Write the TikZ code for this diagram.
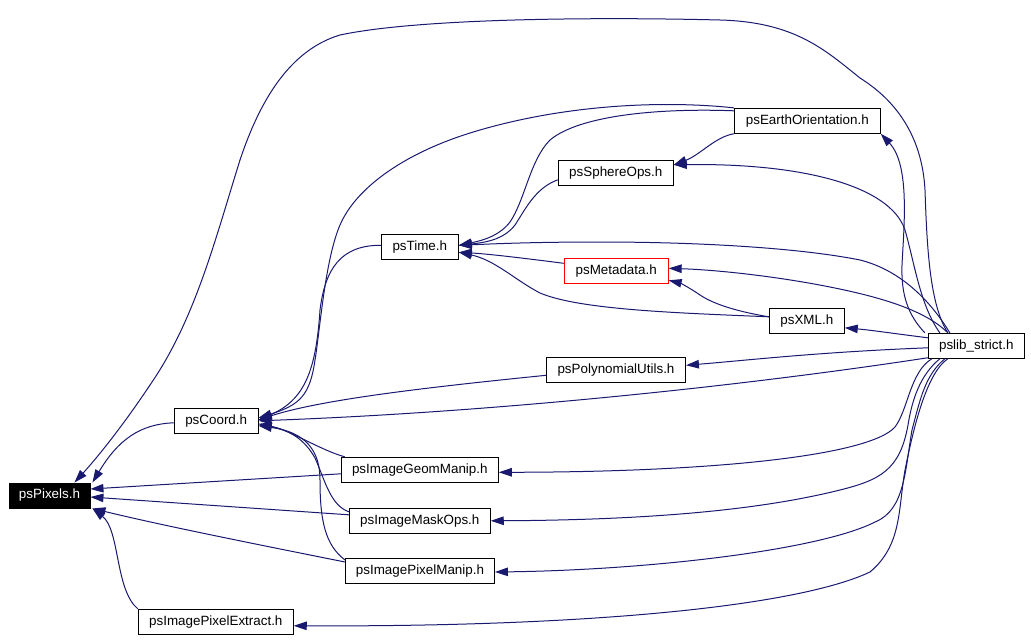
\documentclass[tikz,border=0pt]{standalone}
\usepackage{fontspec}
\setmainfont{Liberation Sans}
\usetikzlibrary{arrows.meta,calc}
\definecolor{navyc}{RGB}{25,25,112}
\begin{document}
\begin{tikzpicture}[x=1pt,y=-1pt,
  hdr/.style={draw=black, line width=0.9pt, minimum height=25pt, inner sep=0pt, fill=white, font=\fontsize{13.4}{15}\selectfont},
  incl/.style={draw=navyc, line width=1pt, -{Triangle[length=13pt,width=8.5pt]}, fill=none}]
\useasboundingbox (0,0) rectangle (1031,643);
% nodes
\node[hdr, minimum width=81pt, fill=black, text=white] (pix) at (49.5,495.5) {psPixels.h};
\node[hdr, minimum width=84pt] (coord) at (216.2,420.8) {psCoord.h};
\node[hdr, minimum width=155pt] (pext) at (215.8,621.8) {psImagePixelExtract.h};
\node[hdr, minimum width=77pt] (time) at (419.8,247.3) {psTime.h};
\node[hdr, minimum width=115pt] (sphere) at (615.8,172.8) {psSphereOps.h};
\node[hdr, minimum width=146pt] (earth) at (807.3,120.8) {psEarthOrientation.h};
\node[hdr, minimum width=104pt, draw=red] (meta) at (616.2,271.3) {psMetadata.h};
\node[hdr, minimum width=75pt] (xml) at (806.8,320.8) {psXML.h};
\node[hdr, minimum width=96pt] (lib) at (976.3,345.8) {pslib\_strict.h};
\node[hdr, minimum width=139pt] (poly) at (616,370.3) {psPolynomialUtils.h};
\node[hdr, minimum width=157pt] (geom) at (419.8,469.8) {psImageGeomManip.h};
\node[hdr, minimum width=141pt] (mask) at (419.8,520.8) {psImageMaskOps.h};
\node[hdr, minimum width=149pt] (pman) at (420,571) {psImagePixelManip.h};
% edges into psPixels.h
\draw[incl] ($(lib.north west)+(20,0)$) .. controls (930,305) and (927,250) .. (925,190) .. controls (922,135) and (895,100) .. (860,78) .. controls (825,50) and (795,22) .. (720,20) .. controls (600,17) and (420,18) .. (340,35) .. controls (290,50) and (260,100) .. (240,160) .. controls (215,240) and (195,320) .. (150,385) .. controls (120,430) and (95,460) .. ($(pix.north east)+(-16,0)$);
\draw[incl] ($(coord.west)+(0,2)$) .. controls (140,424) and (118,440) .. ($(pix.north east)+(2,0)$);
\draw[incl] ($(geom.west)+(0,4)$) -- ($(pix.east)+(0,-6.5)$);
\draw[incl] ($(mask.west)+(0,-6)$) -- ($(pix.east)+(0,1.5)$);
\draw[incl] ($(pman.west)+(0,-9)$) .. controls (260,545) and (160,525) .. ($(pix.south east)+(2,0)$);
\draw[incl] (pext.north west) .. controls (115,590) and (120,530) .. ($(pix.south east)+(2,0)$);
% edges into psCoord.h
\draw[incl] ($(time.west)+(0,-2)$) .. controls (340,245) and (325,270) .. (320,310) .. controls (316,370) and (305,400) .. ($(coord.east)+(0,-1)$);
\draw[incl] (earth.north west) .. controls (660,100) and (560,105) .. (470,133) .. controls (400,155) and (355,190) .. (340,225) .. controls (325,260) and (320,330) .. (315,360) .. controls (310,395) and (300,405) .. ($(coord.east)+(0,-3)$);
\draw[incl] ($(lib.south west)+(0,-1)$) .. controls (750,385) and (500,412) .. (coord.east);
\draw[incl] ($(poly.west)+(0,5)$) .. controls (420,388) and (320,400) .. ($(coord.east)+(0,-1)$);
\draw[incl] ($(geom.north west)+(4,0)$) .. controls (320,450) and (290,430) .. ($(coord.east)+(0,3)$);
\draw[incl] ($(mask.west)+(0,-9)$) .. controls (330,505) and (325,480) .. (315,458) .. controls (305,440) and (290,430) .. ($(coord.east)+(0,4)$);
\draw[incl] ($(pman.west)+(0,-11)$) .. controls (325,545) and (320,520) .. (320,480) .. controls (320,450) and (305,432) .. ($(coord.east)+(0,5)$);
% edges into psTime.h
\draw[incl] ($(earth.west)+(0,-10)$) .. controls (660,108) and (580,115) .. (550,140) .. controls (530,160) and (525,200) .. (510,222) .. controls (500,235) and (485,240) .. ($(time.east)+(0,-2)$);
\draw[incl] ($(sphere.west)+(0,7)$) .. controls (535,188) and (525,210) .. (515,225) .. controls (505,238) and (490,242) .. ($(time.east)+(0,-2)$);
\draw[incl] ($(lib.north west)+(22,0)$) .. controls (930,300) and (900,270) .. (860,260) .. controls (800,248) and (700,242) .. (600,242) .. controls (530,242) and (490,244) .. ($(time.east)+(0,-2)$);
\draw[incl] ($(meta.west)+(0,-8)$) .. controls (530,259) and (490,254) .. ($(time.east)+(0,5)$);
\draw[incl] ($(xml.west)+(0,-4)$) .. controls (680,313) and (580,310) .. (540,293) .. controls (515,280) and (495,260) .. ($(time.east)+(0,5)$);
% edges into psSphereOps.h
\draw[incl] (earth.south west) .. controls (715,137) and (700,155) .. ($(sphere.east)+(0,-8)$);
\draw[incl] ($(lib.north west)+(12,0)$) .. controls (920,305) and (915,265) .. (905,230) .. controls (890,185) and (800,163) .. ($(sphere.east)+(0,-8)$);
% edge into psEarthOrientation.h
\draw[incl] ($(lib.north west)+(-3,0)$) .. controls (908,315) and (901,295) .. (902,265) .. controls (904,225) and (910,165) .. (earth.south east);
% edges into psMetadata.h
\draw[incl] ($(xml.west)+(0,-4)$) .. controls (740,312) and (715,305) .. (700,295) .. controls (690,288) and (680,283) .. ($(meta.east)+(0,9)$);
\draw[incl] ($(lib.north west)+(20,0)$) .. controls (925,310) and (880,297) .. (830,287) .. controls (780,277) and (720,270) .. ($(meta.east)+(0,-3)$);
% edge into psXML.h
\draw[incl] ($(lib.west)+(0,-8)$) .. controls (890,333) and (870,330) .. ($(xml.east)+(0,7)$);
% edge into psPolynomialUtils.h
\draw[incl] ($(lib.west)+(0,2)$) .. controls (820,352) and (750,360) .. ($(poly.east)+(0,-5)$);
% edges into image headers
\draw[incl] ($(lib.south west)+(4,0)$) .. controls (910,372) and (908,410) .. (895,427) .. controls (870,455) and (720,472) .. ($(geom.east)+(0,2.5)$);
\draw[incl] ($(lib.south west)+(12,0)$) .. controls (920,375) and (912,400) .. (908,425) .. controls (900,470) and (880,480) .. (840,490) .. controls (760,510) and (650,520) .. (mask.east);
\draw[incl] ($(lib.south west)+(17,0)$) .. controls (925,375) and (920,400) .. (912,430) .. controls (905,470) and (905,510) .. (875,522) .. controls (820,550) and (650,570) .. ($(pman.east)+(0,1)$);
\draw[incl] ($(lib.south west)+(20,0)$) .. controls (928,372) and (915,420) .. (905,470) .. controls (898,510) and (902,545) .. (870,572) .. controls (800,605) and (600,627) .. ($(pext.east)+(0,4)$);
\end{tikzpicture}
\end{document}
